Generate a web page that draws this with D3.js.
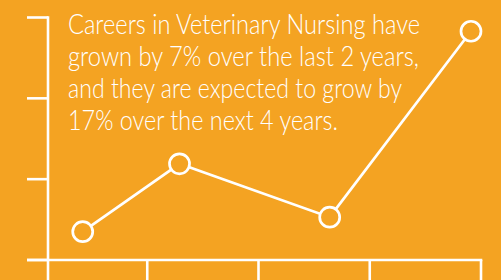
<!DOCTYPE html>
<html>
<head>
<meta charset="utf-8">
<script src="https://cdn.jsdelivr.net/npm/d3@7"></script>
<style>
  html, body { margin: 0; padding: 0; background: #F4A322; }
  svg { display: block; }
</style>
</head>
<body>
<div class="chart"></div>
<script>
// data
const pointX = [0.42, 1.29, 2.64, 3.91];
const pointY = [0.35, 1.19, 0.53, 2.83];
const xTicks = [1, 2, 3, 4];
const yTicks = [0, 1, 2, 3];
const lines = [
  "Careers in Veterinary Nursing have",
  "grown by 7% over the last 2 years,",
  "and they are expected to grow by",
  "17% over the next 4 years."
];
const lineWidths = [352, 351, 334, 270];

const width = 501;
const height = 280;
const axisX = 48;   // where the y axis sits
const tickLeft = 27;

const svg = d3.select('.chart')
    .append('svg')
    .attr('width', width)
    .attr('height', height);

svg.append('rect')
    .attr('width', width)
    .attr('height', height)
    .attr('fill', '#F4A322');

const x = d3.scaleLinear().domain([0, 4]).range([36, 481]);
const y = d3.scaleLinear().domain([0, 3]).range([260, 17.5]);

const white = '#ffffff';
const sw = 2.6;

//Y axis spine
svg.append('line')
    .attr('x1', axisX).attr('x2', axisX)
    .attr('y1', y(3) - sw / 2).attr('y2', height)
    .attr('stroke', white).attr('stroke-width', sw);

//Y ticks
svg.selectAll('.ytick')
    .data(yTicks)
    .enter()
    .append('line')
    .attr('class', 'ytick')
    .attr('x1', tickLeft).attr('x2', axisX)
    .attr('y1', d => y(d)).attr('y2', d => y(d))
    .attr('stroke', white).attr('stroke-width', sw);

//X axis line
svg.append('line')
    .attr('x1', tickLeft).attr('x2', x(4) + sw / 2)
    .attr('y1', y(0)).attr('y2', y(0))
    .attr('stroke', white).attr('stroke-width', sw);

//X ticks
svg.selectAll('.xtick')
    .data(xTicks)
    .enter()
    .append('line')
    .attr('class', 'xtick')
    .attr('x1', d => x(d)).attr('x2', d => x(d))
    .attr('y1', y(0)).attr('y2', height)
    .attr('stroke', white).attr('stroke-width', sw);

//Line
const pts = pointX.map((v, i) => [v, pointY[i]]);
svg.append('path')
    .datum(pts)
    .attr('d', d3.line().x(d => x(d[0])).y(d => y(d[1])))
    .attr('fill', 'none')
    .attr('stroke', white)
    .attr('stroke-width', 2.7);

svg.selectAll('.dot')
    .data(pts)
    .enter()
    .append('circle')
    .attr('class', 'dot')
    .attr('cx', d => x(d[0]))
    .attr('cy', d => y(d[1]))
    .attr('r', 10)
    .attr('fill', '#F4A322')
    .attr('stroke', white)
    .attr('stroke-width', 2.7);

//Text
svg.selectAll('.msg')
    .data(lines)
    .enter()
    .append('text')
    .attr('class', 'msg')
    .attr('x', 68)
    .attr('y', (d, i) => 33.5 + i * 32.3)
    .attr('font-family', 'Lato, "Open Sans", Roboto, sans-serif')
    .attr('font-weight', 300)
    .attr('font-size', '27px')
    .attr('fill', white)
    .attr('textLength', (d, i) => lineWidths[i])
    .attr('lengthAdjust', 'spacingAndGlyphs')
    .text(d => d);
</script>
</body>
</html>
